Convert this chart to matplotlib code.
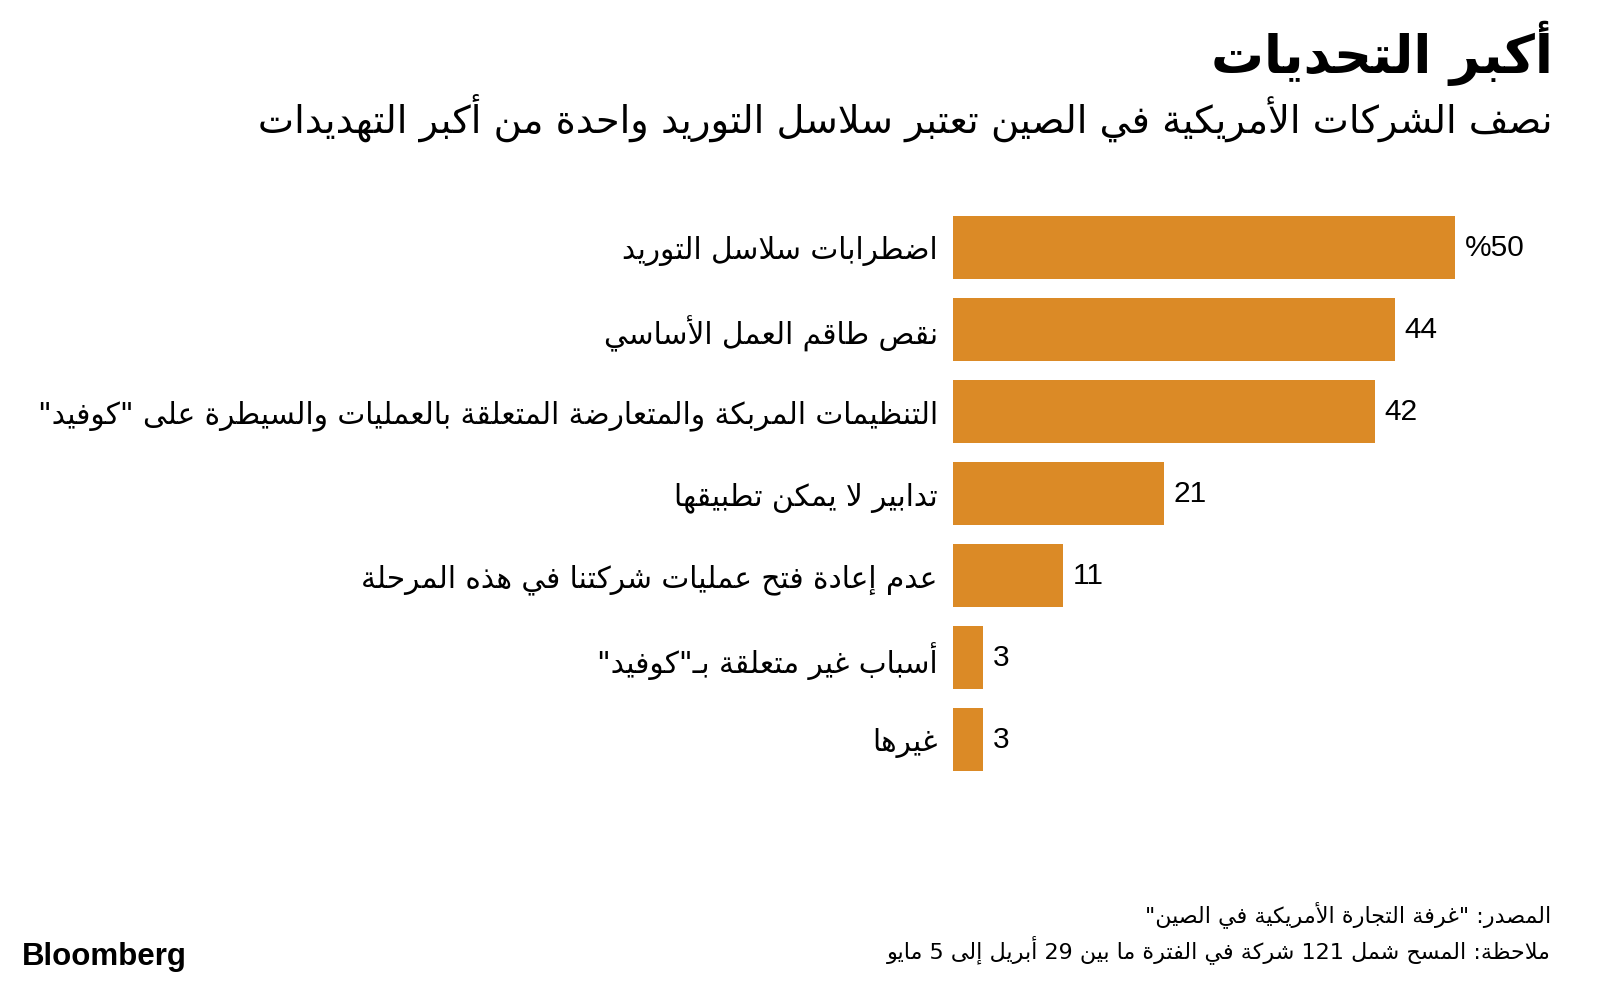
import re
import matplotlib
matplotlib.use("Agg")
import matplotlib.pyplot as plt

# data
categories = [
    "اضطرابات سلاسل التوريد",
    "نقص طاقم العمل الأساسي",
    'التنظيمات المربكة والمتعارضة المتعلقة بالعمليات والسيطرة على "كوفيد"',
    "تدابير لا يمكن تطبيقها",
    "عدم إعادة فتح عمليات شركتنا في هذه المرحلة",
    'أسباب غير متعلقة بـ"كوفيد"',
    "غيرها",
]
values = [50, 44, 42, 21, 11, 3, 3]
value_labels = ["%50", "44", "42", "21", "11", "3", "3"]

title = "أكبر التحديات"
subtitle = "نصف الشركات الأمريكية في الصين تعتبر سلاسل التوريد واحدة من أكبر التهديدات"
source = 'المصدر: "غرفة التجارة الأمريكية في الصين"'
note = "ملاحظة: المسح شمل 121 شركة في الفترة ما بين 29 أبريل إلى 5 مايو"

BAR_COLOR = "#DB8A26"

# minimal arabic shaping (presentation forms) + visual reordering,
# matplotlib has no bidi / shaping of its own
BASE = {'ء': 0xFE80, 'آ': 0xFE81, 'أ': 0xFE83, 'ؤ': 0xFE85, 'إ': 0xFE87, 'ئ': 0xFE89,
        'ا': 0xFE8D, 'ب': 0xFE8F, 'ة': 0xFE93, 'ت': 0xFE95, 'ث': 0xFE99, 'ج': 0xFE9D,
        'ح': 0xFEA1, 'خ': 0xFEA5, 'د': 0xFEA9, 'ذ': 0xFEAB, 'ر': 0xFEAD, 'ز': 0xFEAF,
        'س': 0xFEB1, 'ش': 0xFEB5, 'ص': 0xFEB9, 'ض': 0xFEBD, 'ط': 0xFEC1, 'ظ': 0xFEC5,
        'ع': 0xFEC9, 'غ': 0xFECD, 'ف': 0xFED1, 'ق': 0xFED5, 'ك': 0xFED9, 'ل': 0xFEDD,
        'م': 0xFEE1, 'ن': 0xFEE5, 'ه': 0xFEE9, 'و': 0xFEED, 'ى': 0xFEEF, 'ي': 0xFEF1}
RIGHT = set('آأؤإاةدذرزوى')
LAMALEF = {'آ': 0xFEF5, 'أ': 0xFEF7, 'إ': 0xFEF9, 'ا': 0xFEFB}


def jtype(t):
    c = t[0]
    if c == 'LA':
        return 'R'
    if c == 'ـ':
        return 'D'
    if c == 'ء':
        return 'U'
    if c in RIGHT:
        return 'R'
    if c in BASE:
        return 'D'
    return None


def shape(s):
    chars = []
    i = 0
    while i < len(s):
        if s[i] == 'ل' and i + 1 < len(s) and s[i + 1] in LAMALEF:
            chars.append(('LA', s[i + 1]))
            i += 2
        else:
            chars.append((s[i], None))
            i += 1
    out = []
    for k, t in enumerate(chars):
        prev = chars[k - 1] if k > 0 else None
        nxt = chars[k + 1] if k + 1 < len(chars) else None
        j = jtype(t)
        jp = j in ('D', 'R') and prev is not None and jtype(prev) == 'D'
        jn = j == 'D' and nxt is not None and jtype(nxt) in ('D', 'R')
        if t[0] == 'LA':
            out.append(chr(LAMALEF[t[1]] + (1 if jp else 0)))
        elif t[0] == 'ـ' or j is None:
            out.append(t[0])
        elif j == 'U':
            out.append(chr(BASE[t[0]]))
        elif j == 'R':
            out.append(chr(BASE[t[0]] + (1 if jp else 0)))
        else:
            off = 3 if (jp and jn) else 1 if jp else 2 if jn else 0
            out.append(chr(BASE[t[0]] + off))
    return ''.join(out)


def ar(s):
    s = shape(s)
    runs = re.findall(r'[0-9A-Za-z]+|[^0-9A-Za-z]+', s)
    return ''.join(r if re.match(r'[0-9A-Za-z]', r) else r[::-1] for r in reversed(runs))


W, H = 1600, 986
fig = plt.figure(figsize=(W / 100, H / 100), dpi=100)
fig.patch.set_facecolor("white")

# axes placed so x=0 sits at 953px and 1 unit ~ 10.04px
x0 = 953
ax = fig.add_axes([x0 / W, 205.5 / H, 602.4 / W, 574 / H])
pos = list(range(len(values)))
bars = ax.barh(pos, values, height=0.76, color=BAR_COLOR)
ax.set_xlim(0, 60)
ax.set_ylim(len(values) - 0.5, -0.5)
ax.set_yticks(pos)
ax.set_yticklabels([ar(c) for c in categories], fontsize=21.3, family="DejaVu Sans", color="black")
ax.tick_params(axis="y", length=0, pad=11)
ax.set_xticks([])
for s in ax.spines.values():
    s.set_visible(False)
ax.bar_label(bars, labels=value_labels, padding=7, fontsize=21.5,
             family="Liberation Sans", color="black")

fig.text(1553 / W, 1 - 53 / H, ar(title), ha="right", va="center",
         fontsize=38, fontweight="bold", family="DejaVu Sans")
fig.text(1553 / W, 1 - 118 / H, ar(subtitle), ha="right", va="center",
         fontsize=27.6, family="DejaVu Sans")
fig.text(1551 / W, 1 - 915 / H, ar(source), ha="right", va="center",
         fontsize=16, family="DejaVu Sans")
fig.text(1551 / W, 1 - 950 / H, ar(note), ha="right", va="center",
         fontsize=16, family="DejaVu Sans")
fig.text(22 / W, 1 - 957 / H, "Bloomberg", ha="left", va="center",
         fontsize=22.5, fontweight="bold", family="Liberation Sans")

fig.savefig("out.png", dpi=100, facecolor="white")
